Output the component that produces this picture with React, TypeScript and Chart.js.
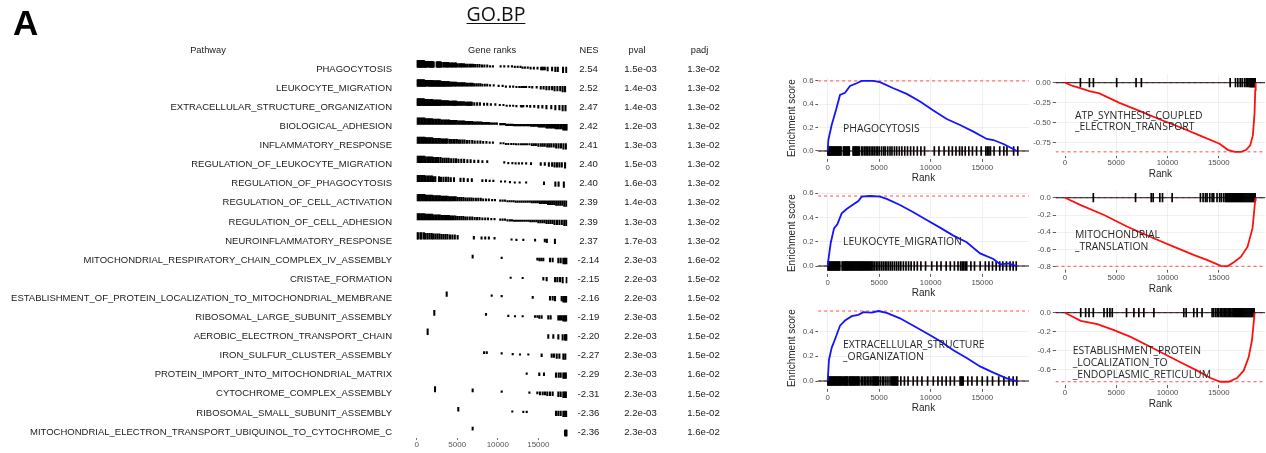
import React, { useEffect, useRef } from "react";
import { Chart, registerables } from "chart.js";

Chart.register(...registerables);

const SANS = '"Liberation Sans", Arial, Helvetica, sans-serif';
const LABEL_SANS = '"Open Sans", "Noto Sans", sans-serif';

// ---------- ranked gene list ----------
const totalGenes = 18600;
const rankAxisTicks = [0, 5000, 10000, 15000];
// ranking statistic of the ordered list, one value per block of 1000 ranks (max |stat| = 1)
const rankStat = [1.0, 0.9, 0.81, 0.72, 0.64, 0.56, 0.48, 0.41, 0.33, 0.25, 0.16, 0.05, -0.07, -0.19, -0.31, -0.44, -0.57, -0.71, -0.87];

// ---------- GO.BP table ----------
const pathways = [
  "PHAGOCYTOSIS",
  "LEUKOCYTE_MIGRATION",
  "EXTRACELLULAR_STRUCTURE_ORGANIZATION",
  "BIOLOGICAL_ADHESION",
  "INFLAMMATORY_RESPONSE",
  "REGULATION_OF_LEUKOCYTE_MIGRATION",
  "REGULATION_OF_PHAGOCYTOSIS",
  "REGULATION_OF_CELL_ACTIVATION",
  "REGULATION_OF_CELL_ADHESION",
  "NEUROINFLAMMATORY_RESPONSE",
  "MITOCHONDRIAL_RESPIRATORY_CHAIN_COMPLEX_IV_ASSEMBLY",
  "CRISTAE_FORMATION",
  "ESTABLISHMENT_OF_PROTEIN_LOCALIZATION_TO_MITOCHONDRIAL_MEMBRANE",
  "RIBOSOMAL_LARGE_SUBUNIT_ASSEMBLY",
  "AEROBIC_ELECTRON_TRANSPORT_CHAIN",
  "IRON_SULFUR_CLUSTER_ASSEMBLY",
  "PROTEIN_IMPORT_INTO_MITOCHONDRIAL_MATRIX",
  "CYTOCHROME_COMPLEX_ASSEMBLY",
  "RIBOSOMAL_SMALL_SUBUNIT_ASSEMBLY",
  "MITOCHONDRIAL_ELECTRON_TRANSPORT_UBIQUINOL_TO_CYTOCHROME_C",
];
const nesValues = [2.54, 2.52, 2.47, 2.42, 2.41, 2.4, 2.4, 2.39, 2.39, 2.37, -2.14, -2.15, -2.16, -2.19, -2.2, -2.27, -2.29, -2.31, -2.36, -2.36];
const pValues = [1.5e-3, 1.4e-3, 1.4e-3, 1.2e-3, 1.3e-3, 1.5e-3, 1.6e-3, 1.4e-3, 1.3e-3, 1.7e-3, 2.3e-3, 2.2e-3, 2.2e-3, 2.3e-3, 2.2e-3, 2.3e-3, 2.3e-3, 2.3e-3, 2.2e-3, 2.3e-3];
const padjValues = [1.3e-2, 1.3e-2, 1.3e-2, 1.3e-2, 1.3e-2, 1.3e-2, 1.3e-2, 1.3e-2, 1.3e-2, 1.3e-2, 1.6e-2, 1.5e-2, 1.5e-2, 1.5e-2, 1.5e-2, 1.5e-2, 1.6e-2, 1.5e-2, 1.5e-2, 1.6e-2];

// ---------- leading-edge hit ranks per gene set ----------
const hitsPhagocytosis = [20, 90, 160, 240, 310, 390, 460, 540, 610, 690, 770, 840, 920, 1000, 1070, 1150, 1230, 1300, 1520, 1600, 1680, 1760, 1850, 1930, 2010, 2100, 2460, 2540, 2630, 2710, 2800, 2880, 2970, 3060, 3280, 3420, 3600, 3730, 3880, 4030, 4210, 4370, 4520, 4700, 4860, 5020, 5240, 5450, 5600, 5830, 6050, 6240, 6480, 6700, 6950, 7200, 7480, 7750, 8050, 8350, 8700, 9050, 9400, 10350, 10800, 11300, 11750, 12100, 12450, 12800, 13050, 13350, 13700, 14050, 14450, 14900, 15350, 15500, 15650, 15800, 16150, 16700, 17100, 17400, 18050, 18450];
const hitsLeukocyteMigration = [30, 110, 190, 270, 350, 430, 510, 600, 680, 760, 840, 930, 1010, 1100, 1180, 1400, 1490, 1580, 1670, 1760, 1850, 1940, 2030, 2120, 2210, 2300, 2390, 2480, 2570, 2660, 2750, 2840, 2930, 3020, 3110, 3200, 3290, 3380, 3470, 3560, 3660, 3760, 3860, 3960, 4070, 4180, 4290, 4400, 4550, 4720, 4880, 5050, 5230, 5400, 5580, 5750, 5930, 6120, 6300, 6500, 6700, 6900, 7100, 7350, 7600, 7850, 8100, 8400, 8700, 9050, 9500, 10100, 10600, 11000, 11500, 11900, 12300, 12650, 12900, 13050, 13200, 13350, 13500, 13900, 14250, 14800, 15300, 15650, 16000, 16350, 16700, 17000, 17350, 17700, 18000, 18300];
const hitsExtracellular = [20, 100, 180, 260, 340, 420, 500, 590, 670, 750, 830, 910, 1000, 1080, 1160, 1240, 1330, 1420, 1550, 1630, 1710, 1800, 1880, 1960, 2100, 2180, 2260, 2350, 2430, 2510, 2600, 2680, 2800, 2880, 2960, 3050, 3250, 3400, 3550, 3700, 3850, 4000, 4150, 4300, 4420, 4520, 4620, 4720, 4820, 4920, 5100, 5300, 5450, 5650, 5850, 6050, 6200, 6300, 6400, 6500, 6600, 6700, 6800, 7100, 7450, 7800, 8300, 8700, 9150, 9700, 10250, 10700, 11100, 11500, 11900, 12300, 12850, 12950, 13050, 13150, 13600, 14000, 14500, 15000, 15500, 16000, 16600, 17100, 17600, 18000, 18350];
const hitsBiologicalAdhesion = [0, 190, 370, 560, 760, 950, 1130, 1330, 1520, 1700, 1900, 2080, 2280, 2460, 2650, 2850, 3030, 3220, 3420, 3600, 3790, 3990, 4170, 4360, 4560, 4740, 4930, 5130, 5310, 5500, 5700, 5880, 6070, 6270, 6450, 6640, 6840, 7020, 7210, 7410, 7590, 7780, 7980, 8160, 8350, 8550, 8730, 8920, 9120, 9300, 9500, 9700, 9900, 10300, 10480, 10670, 10870, 11050, 11240, 11440, 11620, 11810, 12010, 12190, 12380, 12580, 12760, 12950, 13150, 13330, 13520, 13720, 13900, 14090, 14290, 14470, 14660, 14860, 15040, 15230, 15430, 15610, 15800, 16000, 16180, 16370, 16570, 16750, 16940, 17140, 17320, 17510, 17710, 17890, 18080, 18280, 18460, 18580];
const hitsInflammatory = [10, 200, 390, 580, 770, 960, 1150, 1340, 1530, 1720, 1910, 2100, 2290, 2480, 2670, 2860, 3050, 3240, 3430, 3620, 3800, 4050, 4250, 4500, 4700, 4950, 5200, 5400, 5650, 5900, 6200, 6500, 6850, 7150, 7500, 7850, 8200, 8600, 9000, 9400, 10350, 10700, 11000, 11300, 11650, 11950, 12250, 12550, 12850, 13100, 13350, 13600, 13900, 14200, 14450, 14700, 15000, 15300, 15550, 15800, 16100, 16350, 16600, 16900, 17200, 17500, 17800, 18100, 18400];
const hitsRegLeukocyteMigration = [10, 200, 400, 560, 760, 950, 1120, 1330, 1520, 1700, 1900, 2100, 2300, 2500, 2700, 2950, 3200, 3450, 3700, 3950, 4250, 4550, 4850, 5150, 5500, 5850, 6250, 6650, 7100, 7600, 8100, 8700, 10800, 11300, 11800, 12200, 12600, 13000, 13500, 14100, 15300, 15800, 16300, 16700, 17000, 17300, 17600, 17900, 18300];
const hitsRegPhagocytosis = [30, 200, 380, 560, 740, 920, 1100, 1300, 1500, 1700, 1900, 2100, 2300, 2750, 3000, 3300, 3600, 3900, 4200, 4600, 5400, 5800, 6300, 6800, 8100, 8550, 9000, 9450, 10400, 10900, 11500, 12100, 12700, 13500, 15700, 17100, 17500, 18150];
const hitsRegCellActivation = [10, 200, 390, 580, 770, 960, 1150, 1340, 1530, 1720, 1910, 2100, 2290, 2480, 2670, 2860, 3050, 3240, 3430, 3620, 3810, 4000, 4190, 4380, 4600, 4820, 5050, 5280, 5500, 5750, 6000, 6250, 6500, 6750, 7000, 7300, 7600, 7900, 8200, 8550, 8900, 9300, 9650, 10300, 10600, 10900, 11200, 11450, 11700, 11950, 12200, 12450, 12700, 12950, 13200, 13450, 13700, 13950, 14200, 14450, 14700, 14950, 15200, 15450, 15700, 15950, 16200, 16450, 16700, 16950, 17200, 17450, 17700, 17950, 18200, 18450];
const hitsRegCellAdhesion = [0, 190, 380, 570, 760, 950, 1140, 1330, 1520, 1710, 1900, 2090, 2280, 2470, 2660, 2850, 3040, 3230, 3420, 3610, 3800, 3990, 4180, 4370, 4560, 4770, 5000, 5250, 5500, 5750, 6000, 6250, 6550, 6850, 7150, 7450, 7750, 8100, 8450, 8800, 9200, 9600, 10300, 10600, 10900, 11200, 11500, 11750, 12000, 12250, 12500, 12750, 13000, 13250, 13500, 13750, 14000, 14250, 14500, 14750, 15000, 15250, 15500, 15750, 16000, 16250, 16500, 16750, 17000, 17300, 17600, 17900, 18200, 18450];
const hitsNeuroinflammatory = [0, 150, 450, 600, 900, 1100, 1350, 1600, 1850, 2050, 2300, 2550, 2800, 3050, 3300, 3550, 3800, 4100, 4400, 4700, 5050, 7050, 8000, 8450, 8900, 9600, 11700, 12300, 13150, 14600, 15800, 16050, 17050];
const hitsComplexIV = [6900, 10480, 14880, 15130, 15370, 15620, 16440, 16770, 17470, 17760, 18090, 18290, 18500];
const hitsCristae = [11590, 13070, 15620, 16030, 17060, 17350, 17680, 18000, 18500];
const hitsMitoMembrane = [3700, 9250, 10480, 14310, 16440, 16770, 17060, 17880, 18090, 18290, 18450];
const hitsRibosomalLarge = [2170, 8550, 11300, 12120, 13070, 14590, 14880, 15120, 15410, 16230, 16520, 17470, 17670, 17880, 18090, 18290, 18450];
const hitsAerobic = [1350, 16230, 16850, 17470, 18000, 18290, 18400, 18500];
const hitsIronSulfur = [8310, 8640, 10480, 11840, 12740, 13770, 15410, 16650, 16930, 17270, 17600, 18090, 18330];
const hitsProteinImport = [13570, 15120, 15700, 17180, 17510, 17760, 18090, 18250, 18400];
const hitsCytochrome = [2260, 6900, 10480, 13900, 14880, 15200, 15540, 15820, 16110, 16440, 16770, 17470, 17760, 18090, 18250, 18400];
const hitsRibosomalSmall = [5130, 11790, 13150, 13570, 17180, 17470, 17760, 18090, 18290, 18450];
const hitsUbiquinol = [6900, 18290, 18380, 18450, 18520];
const hitsAtpSynthesis = [1500, 2380, 2770, 5040, 6930, 7450, 16110, 16630, 16860, 17090, 17280, 17510, 17670, 17830, 17950, 18050, 18100, 18150, 18200, 18250, 18300, 18350, 18400, 18450, 18500, 18550];
const hitsMitoTranslation = [2760, 6880, 8410, 8600, 9250, 9510, 10450, 13210, 13470, 13700, 13860, 14120, 14350, 14510, 14830, 15090, 15260, 15480, 15650, 15750, 15850, 15950, 16050, 16150, 16250, 16350, 16450, 16550, 16650, 16750, 16850, 16950, 17050, 17150, 17250, 17350, 17450, 17550, 17650, 17750, 17850, 17950, 18050, 18150, 18250, 18350, 18450, 18550];
const hitsErLocalization = [1530, 2010, 2340, 2760, 3800, 4120, 4380, 4610, 6000, 6720, 7200, 7690, 8670, 11590, 11820, 12560, 12890, 13370, 14350, 14510, 14700, 14850, 15000, 15160, 15300, 15420, 15550, 15680, 15800, 15920, 16050, 16180, 16300, 16420, 16550, 16650, 16750, 16850, 16950, 17050, 17150, 17250, 17350, 17450, 17550, 17650, 17750, 17850, 17950, 18050, 18150, 18250, 18350, 18450];

const tableHits = [
  hitsPhagocytosis, hitsLeukocyteMigration, hitsExtracellular, hitsBiologicalAdhesion, hitsInflammatory,
  hitsRegLeukocyteMigration, hitsRegPhagocytosis, hitsRegCellActivation, hitsRegCellAdhesion, hitsNeuroinflammatory,
  hitsComplexIV, hitsCristae, hitsMitoMembrane, hitsRibosomalLarge, hitsAerobic,
  hitsIronSulfur, hitsProteinImport, hitsCytochrome, hitsRibosomalSmall, hitsUbiquinol,
];

// ---------- running enrichment scores ----------
const esPhagocytosisRank = [0, 63, 386, 807, 1196, 1683, 2168, 2816, 3300, 4434, 5081, 6376, 7670, 8966, 10260, 11555, 12850, 14145, 15440, 16087, 17058, 17867, 18353];
const esPhagocytosis = [0, 0.094, 0.223, 0.351, 0.48, 0.498, 0.557, 0.58, 0.6, 0.6, 0.589, 0.537, 0.489, 0.423, 0.346, 0.274, 0.223, 0.166, 0.103, 0.094, 0.06, 0.023, 0];
const esLeukocyteRank = [0, 63, 290, 614, 938, 1359, 1844, 2330, 2977, 3300, 4110, 5081, 5728, 7022, 8317, 9611, 10906, 12200, 13495, 14790, 16085, 16732, 17541, 18350];
const esLeukocyte = [0, 0.049, 0.187, 0.31, 0.343, 0.433, 0.469, 0.497, 0.535, 0.571, 0.576, 0.571, 0.552, 0.502, 0.442, 0.379, 0.316, 0.25, 0.195, 0.104, 0.058, 0.014, 0.022, 0];
const esExtracellularRank = [0, 127, 386, 711, 1197, 1683, 2330, 2977, 3462, 4272, 4920, 5728, 7022, 8317, 9611, 10906, 12200, 13495, 14790, 16085, 17379, 18350];
const esExtracellular = [0, 0.172, 0.268, 0.337, 0.447, 0.488, 0.523, 0.534, 0.556, 0.552, 0.565, 0.55, 0.506, 0.446, 0.386, 0.323, 0.249, 0.186, 0.118, 0.068, 0.022, 0];
const esAtpRank = [0, 748, 1562, 2376, 3353, 5306, 7260, 9213, 11166, 13119, 15072, 15886, 16537, 17188, 17676, 18067, 18327, 18490, 18560, 18600];
const esAtp = [0, -0.041, -0.071, -0.104, -0.134, -0.251, -0.352, -0.456, -0.553, -0.658, -0.762, -0.838, -0.863, -0.863, -0.838, -0.783, -0.658, -0.385, -0.092, 0];
const esTranslationRank = [0, 1530, 3810, 6090, 8700, 10650, 12600, 13900, 15200, 15850, 16500, 17150, 17800, 18290, 18450, 18550, 18600];
const esTranslation = [0, -0.085, -0.2, -0.336, -0.471, -0.568, -0.664, -0.722, -0.788, -0.792, -0.742, -0.684, -0.568, -0.355, -0.162, -0.027, 0];
const esErRank = [0, 1530, 3150, 4770, 6400, 8020, 9640, 11260, 12890, 14190, 15160, 15970, 16780, 17430, 17920, 18240, 18400, 18500];
const esEr = [0, -0.085, -0.12, -0.183, -0.254, -0.342, -0.431, -0.519, -0.608, -0.685, -0.724, -0.724, -0.685, -0.608, -0.466, -0.289, -0.113, 0];

const posTicks = [0, 0.2, 0.4, 0.6];
const posTicksShort = [0, 0.2, 0.4];
const atpTicks = [0, -0.25, -0.5, -0.75];
const translationTicks = [0, -0.2, -0.4, -0.6, -0.8];
const erTicks = [0, -0.2, -0.4, -0.6];

// ---------- helpers ----------
const fmtExp = (v: number) => {
  const [m, e] = v.toExponential(1).split("e");
  const n = parseInt(e, 10);
  return `${m}e${n < 0 ? "-" : "+"}${String(Math.abs(n)).padStart(2, "0")}`;
};
const statAt = (rank: number) => rankStat[Math.min(Math.floor(rank / 1000), rankStat.length - 1)];

function esLimits(es: number[]) {
  const top = Math.max(...es);
  const bottom = Math.min(...es);
  const diff = (top - bottom) / 8;
  const lo = Math.min(bottom, -diff / 2);
  const hi = Math.max(top, diff / 2);
  const pad = (hi - lo) * 0.05;
  return { top, bottom, diff, lo: lo - pad, hi: hi + pad };
}

// ---------- table geometry ----------
const TABLE_W = 760;
const TABLE_H = 453;
const ROW_TOP = 49.9;
const RANKS_LEFT = 416.7;
const RANKS_RIGHT = 567.5;
const RANKS_BOTTOM = 438;
const HEADER_Y = 50;
const TEXT_COLOR = "#1a1a1a";
const TABLE_FONT = 9.6;

const tableTextPlugin = {
  id: "tableText",
  afterDraw(chart: any) {
    const { ctx } = chart;
    const y = chart.scales.y;
    const area = chart.chartArea;
    ctx.save();
    ctx.fillStyle = TEXT_COLOR;
    ctx.textBaseline = "middle";
    ctx.textAlign = "center";
    ctx.font = `9.3px ${SANS}`;
    ctx.fillText("Pathway", 208, HEADER_Y);
    ctx.fillText("Gene ranks", (area.left + area.right) / 2, HEADER_Y);
    ctx.fillText("NES", 589, HEADER_Y);
    ctx.fillText("pval", 637, HEADER_Y);
    ctx.fillText("padj", 699.5, HEADER_Y);
    ctx.font = `${TABLE_FONT}px ${SANS}`;
    pathways.forEach((_, i) => {
      const py = y.getPixelForValue(i);
      ctx.fillText(nesValues[i].toFixed(2), 588.5, py);
      ctx.fillText(fmtExp(pValues[i]), 640.5, py);
      ctx.fillText(fmtExp(padjValues[i]), 703.5, py);
    });
    ctx.restore();
  },
};

function GseaTable() {
  const ref = useRef<HTMLCanvasElement>(null);
  useEffect(() => {
    const bars: { x: number; y: number[] }[] = [];
    tableHits.forEach((hits, i) => {
      const base = i - 0.1;
      hits.forEach((r) => bars.push({ x: r, y: [base, base - statAt(r) * 0.34] }));
    });
    const chart = new Chart(ref.current as HTMLCanvasElement, {
      type: "bar",
      data: {
        datasets: [
          {
            data: bars as any,
            backgroundColor: "#000000",
            borderWidth: 0,
            barThickness: 1.4,
            minBarLength: 1.5,
            grouped: false,
          } as any,
        ],
      },
      options: {
        responsive: false,
        animation: false,
        layout: { padding: { top: ROW_TOP, left: 0, right: TABLE_W - RANKS_RIGHT, bottom: 0 } },
        plugins: { legend: { display: false }, tooltip: { enabled: false } },
        scales: {
          x: {
            type: "linear",
            min: 0,
            max: totalGenes,
            offset: false,
            border: { display: false },
            grid: { display: true, drawOnChartArea: false, drawTicks: true, tickLength: 2, tickColor: "#777", offset: false },
            ticks: {
              font: { family: SANS, size: 8 },
              color: "#555",
              padding: 0,
              maxRotation: 0,
              autoSkip: false,
              callback: (v: any) => String(v),
            },
            afterBuildTicks: (s: any) => {
              s.ticks = rankAxisTicks.map((v) => ({ value: v }));
            },
            afterFit: (s: any) => {
              s.height = TABLE_H - RANKS_BOTTOM;
            },
          },
          y: {
            type: "linear",
            reverse: true,
            min: -1,
            max: 19.31,
            border: { display: false },
            grid: { display: true, drawOnChartArea: false, drawTicks: true, tickLength: 24.7, tickColor: "rgba(0,0,0,0)" },
            ticks: {
              font: { family: SANS, size: 9.5 },
              color: TEXT_COLOR,
              padding: 0,
              autoSkip: false,
              callback: (v: any) => pathways[v] ?? "",
            },
            afterBuildTicks: (s: any) => {
              s.ticks = pathways.map((_, i) => ({ value: i }));
            },
            afterFit: (s: any) => {
              s.width = RANKS_LEFT;
            },
          },
        },
      } as any,
      plugins: [tableTextPlugin],
    });
    return () => chart.destroy();
  }, []);
  return (
    <canvas
      ref={ref}
      width={TABLE_W}
      height={TABLE_H}
      style={{ position: "absolute", left: 0, top: 0, width: TABLE_W, height: TABLE_H }}
    />
  );
}

// ---------- enrichment panels ----------
type PanelSpec = {
  id: string;
  ranks: number[];
  es: number[];
  hits: number[];
  yTicks: number[];
  yDigits: number;
  color: string;
  canvas: { l: number; t: number; w: number; h: number };
  area: { l: number; t: number; r: number; b: number };
  xLabelPad: number;
  yTitle: boolean;
  label: { lines: string[]; x: number; y: number[] };
};

const BLUE = "#1414ff";
const RED = "#ff1010";

const panels: PanelSpec[] = [
  {
    id: "phagocytosis", ranks: esPhagocytosisRank, es: esPhagocytosis, hits: hitsPhagocytosis,
    yTicks: posTicks, yDigits: 1, color: BLUE,
    canvas: { l: 780, t: 70, w: 250, h: 114 }, area: { l: 818.1, t: 77.2, r: 1028.9, b: 159.1 },
    xLabelPad: 1.5, yTitle: true,
    label: { lines: ["PHAGOCYTOSIS"], x: 843, y: [128.5] },
  },
  {
    id: "leukocyte", ranks: esLeukocyteRank, es: esLeukocyte, hits: hitsLeukocyteMigration,
    yTicks: posTicks, yDigits: 1, color: BLUE,
    canvas: { l: 780, t: 185, w: 250, h: 114 }, area: { l: 818.1, t: 192.3, r: 1028.9, b: 274.1 },
    xLabelPad: 1.5, yTitle: true,
    label: { lines: ["LEUKOCYTE_MIGRATION"], x: 843, y: [241.7] },
  },
  {
    id: "extracellular", ranks: esExtracellularRank, es: esExtracellular, hits: hitsExtracellular,
    yTicks: posTicksShort, yDigits: 1, color: BLUE,
    canvas: { l: 780, t: 300, w: 250, h: 114 }, area: { l: 818.1, t: 307.3, r: 1028.9, b: 389.1 },
    xLabelPad: 1.5, yTitle: true,
    label: { lines: ["EXTRACELLULAR_STRUCTURE", "_ORGANIZATION"], x: 843, y: [344, 356.7] },
  },
  {
    id: "atp", ranks: esAtpRank, es: esAtp, hits: hitsAtpSynthesis,
    yTicks: atpTicks, yDigits: 2, color: RED,
    canvas: { l: 1030, t: 68, w: 236, h: 112 }, area: { l: 1055.5, t: 74.7, r: 1265.2, b: 155.5 },
    xLabelPad: 0, yTitle: false,
    label: { lines: ["ATP_SYNTHESIS_COUPLED", "_ELECTRON_TRANSPORT"], x: 1075, y: [115, 126.7] },
  },
  {
    id: "translation", ranks: esTranslationRank, es: esTranslation, hits: hitsMitoTranslation,
    yTicks: translationTicks, yDigits: 1, color: RED,
    canvas: { l: 1030, t: 183, w: 236, h: 112 }, area: { l: 1055.5, t: 189.8, r: 1265.2, b: 269.9 },
    xLabelPad: 0.3, yTitle: false,
    label: { lines: ["MITOCHONDRIAL", "_TRANSLATION"], x: 1075, y: [234, 246.7] },
  },
  {
    id: "er", ranks: esErRank, es: esEr, hits: hitsErLocalization,
    yTicks: erTicks, yDigits: 1, color: RED,
    canvas: { l: 1030, t: 298, w: 236, h: 112 }, area: { l: 1055.5, t: 304.7, r: 1265.2, b: 385.4 },
    xLabelPad: 0, yTitle: false,
    label: { lines: ["ESTABLISHMENT_PROTEIN", "_LOCALIZATION_TO", "_ENDOPLASMIC_RETICULUM"], x: 1072.7, y: [350.7, 362.3, 374] },
  },
];

function EnrichmentPanel({ spec }: { spec: PanelSpec }) {
  const ref = useRef<HTMLCanvasElement>(null);
  useEffect(() => {
    const lim = esLimits(spec.es);
    const xMin = -0.05 * totalGenes;
    const xMax = 1.05 * totalGenes;
    const c = spec.canvas;
    const a = spec.area;
    const half = lim.diff / 2;
    const gridOpts = { color: "#ececec", lineWidth: 0.8, tickColor: "#333", tickLength: 2.75, drawTicks: true, offset: false };
    const chart = new Chart(ref.current as HTMLCanvasElement, {
      type: "bar",
      data: {
        datasets: [
          {
            type: "line",
            data: spec.ranks.map((r, i) => ({ x: r, y: spec.es[i] })),
            borderColor: spec.color,
            borderWidth: 1.8,
            pointRadius: 0,
            tension: 0,
            order: 0,
          },
          {
            type: "bar",
            data: spec.hits.map((r) => ({ x: r, y: [-half, half] })),
            backgroundColor: "#000000",
            borderWidth: 0,
            barThickness: 1,
            grouped: false,
            order: 1,
          },
          {
            type: "line",
            data: [{ x: xMin, y: 0 }, { x: xMax, y: 0 }],
            borderColor: "#1a1a1a",
            borderWidth: 1,
            pointRadius: 0,
            order: 2,
          },
          {
            type: "line",
            data: [{ x: xMin, y: lim.top }, { x: xMax, y: lim.top }],
            borderColor: "#ff4d4d",
            borderWidth: 1,
            borderDash: [3, 3],
            pointRadius: 0,
            order: 3,
          },
          {
            type: "line",
            data: [{ x: xMin, y: lim.bottom }, { x: xMax, y: lim.bottom }],
            borderColor: "#ff4d4d",
            borderWidth: 1,
            borderDash: [3, 3],
            pointRadius: 0,
            order: 4,
          },
        ] as any,
      },
      options: {
        responsive: false,
        animation: false,
        layout: { padding: { top: a.t - c.t, left: 0, right: c.l + c.w - a.r, bottom: 0 } },
        plugins: { legend: { display: false }, tooltip: { enabled: false } },
        scales: {
          x: {
            type: "linear",
            min: xMin,
            max: xMax,
            offset: false,
            border: { display: false },
            grid: gridOpts,
            ticks: {
              font: { family: SANS, size: 7.8 },
              color: "#4d4d4d",
              padding: spec.xLabelPad,
              maxRotation: 0,
              autoSkip: false,
              callback: (v: any) => String(v),
            },
            afterBuildTicks: (s: any) => {
              s.ticks = rankAxisTicks.map((v) => ({ value: v }));
            },
            afterFit: (s: any) => {
              s.height = c.t + c.h - a.b;
            },
            title: { display: true, text: "Rank", font: { family: SANS, size: 10 }, color: "#262626", padding: { top: 0, bottom: 0 } },
          },
          y: {
            type: "linear",
            min: lim.lo,
            max: lim.hi,
            border: { display: false },
            grid: gridOpts,
            ticks: {
              font: { family: SANS, size: 7.8 },
              color: "#4d4d4d",
              padding: 1.8,
              autoSkip: false,
              callback: (v: any) => Number(v).toFixed(spec.yDigits),
            },
            afterBuildTicks: (s: any) => {
              s.ticks = spec.yTicks.map((v) => ({ value: v }));
            },
            afterFit: (s: any) => {
              s.width = a.l - c.l;
            },
            title: {
              display: spec.yTitle,
              text: "Enrichment score",
              font: { family: SANS, size: 10 },
              color: "#262626",
              padding: { top: 6, bottom: 0 },
            },
          },
        },
      } as any,
    });
    return () => chart.destroy();
  }, [spec]);
  const c = spec.canvas;
  return (
    <canvas
      ref={ref}
      width={c.w}
      height={c.h}
      style={{ position: "absolute", left: c.l, top: c.t, width: c.w, height: c.h }}
    />
  );
}

function PanelLabel({ spec }: { spec: PanelSpec }) {
  return (
    <>
      {spec.label.lines.map((line, i) => (
        <div
          key={i}
          style={{
            position: "absolute",
            left: spec.label.x,
            top: spec.label.y[i] - 6.3,
            fontFamily: LABEL_SANS,
            fontSize: 10.4,
            lineHeight: "12px",
            color: "#262626",
            whiteSpace: "nowrap",
          }}
        >
          {line}
        </div>
      ))}
    </>
  );
}

export default function App() {
  return (
    <div
      style={{
        position: "absolute",
        left: 0,
        top: 0,
        width: 1266,
        height: 453,
        background: "#ffffff",
        overflow: "hidden",
      }}
    >
      <GseaTable />
      {panels.map((p) => (
        <EnrichmentPanel key={p.id} spec={p} />
      ))}
      {panels.map((p) => (
        <PanelLabel key={p.id + "-label"} spec={p} />
      ))}
      <div
        style={{
          position: "absolute",
          left: 13,
          top: 5.4,
          fontFamily: SANS,
          fontWeight: "bold",
          fontSize: 35,
          lineHeight: "35px",
          color: "#000",
        }}
      >
        A
      </div>
      <div
        style={{
          position: "absolute",
          left: 396,
          width: 200,
          top: 1,
          textAlign: "center",
          fontFamily: LABEL_SANS,
          fontSize: 19.5,
          lineHeight: "25px",
          color: "#111",
          textDecoration: "underline",
          textUnderlineOffset: "2px",
        }}
      >
        GO.BP
      </div>
    </div>
  );
}
